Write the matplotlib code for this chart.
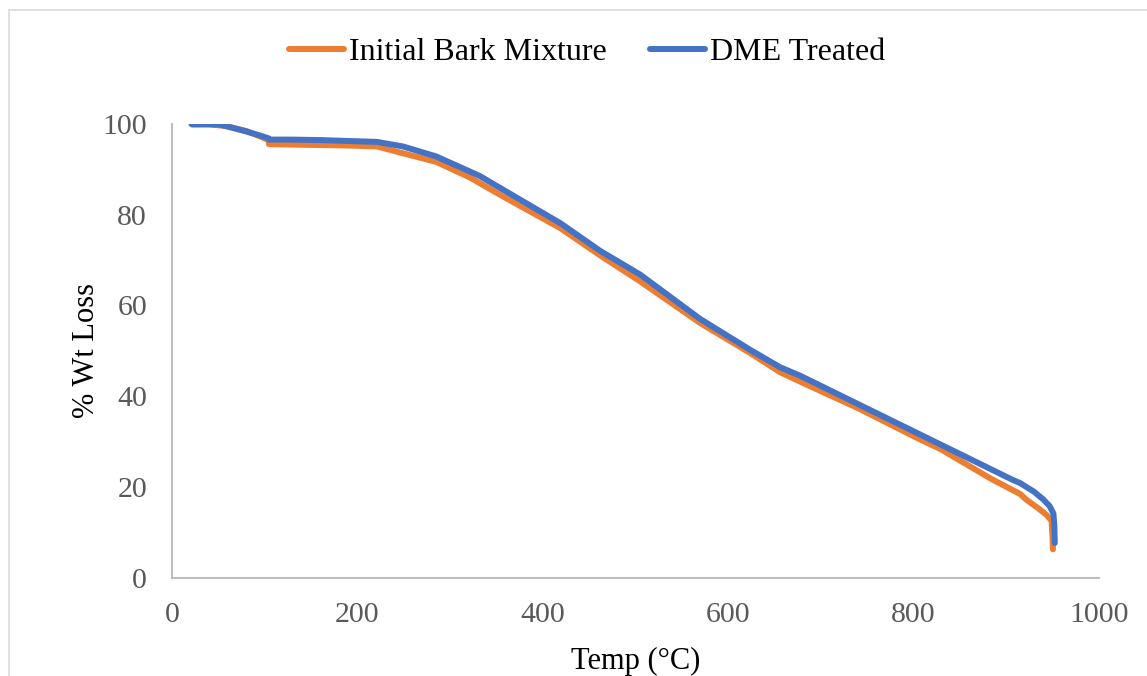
import matplotlib
matplotlib.use('Agg')
import matplotlib.pyplot as plt
from matplotlib.patches import Rectangle

plt.rcParams['font.family'] = ['Liberation Serif', 'DejaVu Serif']

# TGA curves
temp_bark = [22, 40, 60, 80, 95, 104, 104.5, 130, 160, 190, 221, 249, 285, 321, 357,
             419, 462, 505, 570, 624, 656, 678, 742, 807, 829, 884, 915, 922, 935,
             944, 949, 950, 950.5]
wt_bark = [99.8, 99.9, 99.4, 98.4, 97.2, 96.4, 95.5, 95.4, 95.3, 95.2, 95.0, 93.5,
           91.6, 88.2, 84.0, 77.0, 71.0, 65.3, 56.1, 49.5, 45.3, 43.2, 37.2, 30.5,
           28.4, 21.8, 18.5, 17.2, 15.3, 13.8, 12.6, 9.0, 6.3]

temp_dme = [21, 52, 80, 95, 104, 104.5, 130, 160, 190, 221, 249, 285, 332, 357, 419,
            462, 505, 570, 624, 656, 678, 742, 807, 829, 884, 907, 915, 930, 940,
            947, 951, 952, 952.5]
wt_dme = [99.9, 99.8, 98.3, 97.4, 96.8, 96.5, 96.5, 96.4, 96.2, 96.0, 95.0, 92.8,
          88.5, 85.5, 78.1, 72.0, 66.8, 57.0, 50.2, 46.4, 44.5, 38.1, 31.6, 29.4,
          23.9, 21.6, 20.9, 19.0, 17.3, 15.8, 14.2, 11.5, 7.7]

x_ticks = [0, 200, 400, 600, 800, 1000]
y_ticks = [0, 20, 40, 60, 80, 100]

fig = plt.figure(figsize=(11.47, 6.76), dpi=100)
ax = fig.add_axes([0.15, 0.145, 0.808, 0.672])

ax.plot(temp_bark, wt_bark, color='#ED7D31', lw=4.3, solid_capstyle='round',
        solid_joinstyle='round', label='Initial Bark Mixture')
ax.plot(temp_dme, wt_dme, color='#4472C4', lw=4.3, solid_capstyle='round',
        solid_joinstyle='round', label='DME Treated')

ax.set_xlim(0, 1000)
ax.set_ylim(0, 100)
ax.set_xticks(x_ticks)
ax.set_yticks(y_ticks)
ax.tick_params(length=0, labelsize=21.5, labelcolor='#595959')
ax.tick_params(axis='y', pad=18)
ax.tick_params(axis='x', pad=17)
for s in ['top', 'right']:
    ax.spines[s].set_visible(False)
for s in ['left', 'bottom']:
    ax.spines[s].set_color('#BFBFBF')
    ax.spines[s].set_linewidth(1.5)

ax.set_xlabel('Temp (°C)', fontsize=22, labelpad=14)
ax.set_ylabel('% Wt Loss', fontsize=22, labelpad=1)

leg = fig.legend(loc='center', bbox_to_anchor=(0.512, 0.922), ncol=2, frameon=False,
                 fontsize=23, handlelength=1.72, handletextpad=0.15, columnspacing=1.35)
for line in leg.get_lines():
    line.set_linewidth(4.3)
    line.set_solid_capstyle('round')

fig.patches.append(Rectangle((9 / 1147, -0.1), 1.2, 1.1 - 10 / 676,
                             transform=fig.transFigure, fill=False,
                             edgecolor='#D9D9D9', lw=1.2))

fig.savefig('out.png', dpi=100, facecolor='white')
